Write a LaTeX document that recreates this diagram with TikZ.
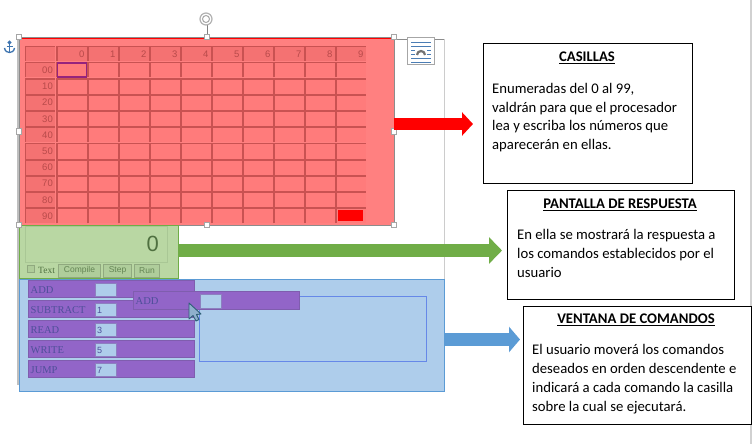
\documentclass[tikz,border=0pt]{standalone}
\usepackage{fontspec}
\setmainfont{Carlito}
\newfontfamily\uiserif{Liberation Serif}
\newfontfamily\uisans{Liberation Sans}
\usetikzlibrary{arrows.meta,calc}
\definecolor{panelred}{HTML}{FF8080}
\definecolor{cellred}{HTML}{FF7B7B}
\definecolor{headred}{HTML}{F47272}
\definecolor{bevelred}{HTML}{C95252}
\definecolor{numred}{HTML}{B84A4A}
\definecolor{panelgreen}{HTML}{B9D7A3}
\definecolor{edgegreen}{HTML}{70AD47}
\definecolor{innergreen}{HTML}{A9C795}
\definecolor{textgreen}{HTML}{4F7040}
\definecolor{panelblue}{HTML}{AECDEB}
\definecolor{edgeblue}{HTML}{5B9BD5}
\definecolor{purp}{HTML}{9265C8}
\definecolor{purpedge}{HTML}{7F5DAE}
\definecolor{purptext}{HTML}{4F4F9A}
\definecolor{dropblue}{HTML}{6688E8}
\definecolor{iconblue}{HTML}{4B7DB4}
\definecolor{anchorblue}{HTML}{3C73AF}
\definecolor{selpurple}{HTML}{96237D}
\definecolor{cursorfill}{HTML}{8FB0CC}
\definecolor{cursoredge}{HTML}{2F5F78}
\tikzset{
  x=1pt,y=-1pt,
  plain/.style={inner sep=0pt,outer sep=0pt,anchor=north west},
  cellbox/.style={plain,fill=cellred,minimum width=29.5pt,minimum height=15pt},
  headbox/.style={plain,fill=headred,minimum width=29.5pt,minimum height=14.5pt},
  bevel/.style={draw=bevelred,line width=1.9pt},
  numtext/.style={inner sep=0pt,text=numred,font=\uisans\fontsize{9.5}{10}\selectfont,anchor=base east},
  handle/.style={draw=black!35,fill=white,line width=1pt,minimum size=5.5pt,inner sep=0pt},
  infobox/.style={draw=black,line width=1pt,fill=white,plain},
  title/.style={inner sep=0pt,font=\bfseries\fontsize{14.7}{16}\selectfont,anchor=base},
  body/.style={inner sep=0pt,font=\fontsize{14.7}{18.7}\selectfont,align=left,anchor=north west},
  cmdrow/.style={plain,fill=purp,draw=purpedge,line width=.5pt,minimum width=166pt,minimum height=17pt},
  cmdtext/.style={inner sep=0pt,text=purptext,font=\uiserif\fontsize{10.5}{12}\selectfont,anchor=base west},
  cmdinput/.style={plain,fill=panelblue,draw=purpedge!70!panelblue,line width=.6pt,minimum width=21.5pt,minimum height=13.5pt},
  cmdvalue/.style={inner sep=0pt,text=purptext,font=\uisans\fontsize{9}{9}\selectfont,anchor=base west},
  uibutton/.style={plain,fill=innergreen!60!panelgreen,draw=innergreen!85!black,line width=.5pt,minimum height=13pt,
     text=textgreen!80!panelgreen,font=\uisans\fontsize{8.5}{9}\selectfont},
  iconline/.style={iconblue,line width=.9pt},
}
\begin{document}
\begin{tikzpicture}
\useasboundingbox (0,0) rectangle (753,444);
\fill[white] (0,0) rectangle (753,444);
% page margins
\draw[black!20,line width=1pt] (444.5,39) -- (444.5,280);
\draw[black!45,line width=1pt] (394,39.5) -- (444,39.5);
\draw[black!25,line width=1.5pt] (18,37) -- (18,385);
\fill[black!18] (750,0) rectangle (752,444);
% red panel
\node[plain,fill=panelred,minimum width=375pt,minimum height=188pt] (memory) at (19,37) {};
\draw[red,line width=1pt] (19.8,225) -- (19.8,38.5) -- (394,38.5);
\draw[black!45,line width=.8pt] (19,225) -- (19,37) -- (394,37) -- (394,225) -- cycle;
% header row
\node[headbox] (corner) at (25.5,46.5) {};
\draw[bevel] (corner.south west) -- (corner.north west) -- (corner.north east);
\foreach \c in {0,...,9}{
  \pgfmathsetmacro{\xx}{57+31*\c}
  \node[headbox] (head\c) at (\xx,46.5) {};
  \draw[bevel] (head\c.south west) -- (head\c.north west) -- (head\c.north east);
  \node[numtext] at ($(head\c.south east)+(-2,-3.5)$) {\c};
}
% rows
\foreach \r in {0,...,9}{
  \pgfmathsetmacro{\yy}{62.5+16.2*\r}
  \node[headbox,minimum height=15pt] (rowhead\r) at (25.5,\yy) {};
  \draw[bevel] (rowhead\r.south west) -- (rowhead\r.north west) -- (rowhead\r.north east);
  \node[numtext] at ($(rowhead\r.south east)+(-2,-4)$) {\r0};
  \foreach \c in {0,...,9}{
    \pgfmathsetmacro{\xx}{57+31*\c}
    \node[cellbox] (cell\r\c) at (\xx,\yy) {};
    \draw[bevel] (cell\r\c.south west) -- (cell\r\c.north west) -- (cell\r\c.north east);
  }
}
\node[plain,draw=selpurple,line width=1.5pt,minimum width=29pt,minimum height=14pt] (selected) at (57.5,63) {};
\node[plain,fill=red,minimum width=25.5pt,minimum height=11pt] (lastcell) at (337.5,210) {};
% green panel
\node[plain,fill=panelgreen,draw=edgegreen,line width=.8pt,minimum width=159pt,minimum height=53pt] (output) at (19,225) {};
\node[plain,draw=innergreen,line width=.8pt,minimum width=142pt,minimum height=36pt] (display) at (25,226) {};
\node[inner sep=0pt,text=textgreen,font=\uisans\fontsize{22}{22}\selectfont,anchor=base east] (zero) at (159,251) {0};
\node[plain,fill=innergreen!70!panelgreen,draw=innergreen!85!black,line width=.5pt,minimum size=7pt] (check) at (27.5,265) {};
\node[inner sep=0pt,text=textgreen,font=\uiserif\fontsize{9.5}{10}\selectfont,anchor=base west] (txt) at (38,273.5) {Text};
\node[uibutton,minimum width=42pt] (compile) at (58.5,264) {Compile};
\node[uibutton,minimum width=28pt] (stepbtn) at (103.5,264) {Step};
\node[uibutton,minimum width=25pt] (runbtn) at (134.5,264) {Run};
% blue panel
\node[plain,fill=panelblue,draw=edgeblue,line width=.8pt,minimum width=425pt,minimum height=112pt] (commands) at (19.5,279.5) {};
\node[plain,draw=dropblue,line width=.8pt,minimum width=227pt,minimum height=65pt] (drop) at (199,296) {};
\foreach \n/\lab/\val/\yy in {a/ADD//280.5,b/SUBTRACT/1/300.5,c/READ/3/320.5,d/WRITE/5/340.5,e/JUMP/7/360.5}{
  \node[cmdrow] (row\n) at (28,\yy) {};
  \node[cmdtext] at ($(row\n.north west)+(2.5,12.5)$) {\lab};
  \node[cmdinput] (in\n) at ($(row\n.north west)+(67,2.5)$) {};
  \node[cmdvalue] at ($(in\n.north west)+(2,10.5)$) {\val};
}
% dragged command
\node[cmdrow,minimum height=18pt] (drag) at (133,291.5) {};
\node[cmdtext] at ($(drag.north west)+(2.5,12.5)$) {ADD};
\node[cmdinput] (dragin) at ($(drag.north west)+(67,3)$) {};
% cursor
\draw[fill=cursorfill,draw=cursoredge,line width=.9pt,line join=round]
  (189,303) -- (189,319) -- (193,315.5) -- (196,321) -- (199,319.5) -- (196.5,314.5) -- (201,314) -- cycle;
% handles
\foreach \hx/\hy in {19/37,207/37,394/37,19/131.5,394/131.5,19/225,207/225,394/225}{
  \node[handle] at (\hx,\hy) {};
}
\draw[black!50,line width=.8pt] (207,25) -- (207,34);
\node[circle,draw=black!30,line width=1.2pt,minimum size=12pt,inner sep=0pt] (rotate) at (206,19) {};
\draw[black!35,line width=1pt] (206,19) circle[radius=3.5pt];
% anchor icon
\begin{scope}[draw=anchorblue,line width=1.3pt]
\draw (9.5,42.5) circle[radius=1.3];
\draw (9.5,44) -- (9.5,52.5);
\draw (6.5,46.5) -- (12.5,46.5);
\draw (4.5,48) .. controls (5,51.5) and (7.5,52.5) .. (9.5,52.5) .. controls (11.5,52.5) and (14,51.5) .. (14.5,48);
\end{scope}
% layout icon
\node[plain,draw=black!35,fill=white,line width=.8pt,minimum width=27pt,minimum height=27pt] (layout) at (407.5,37.5) {};
\foreach \ly in {42.5,46.5,58.5,62}{\draw[iconline] (411,\ly) -- (431,\ly);}
\foreach \ly in {50.5,54.5}{
  \draw[iconline] (411,\ly) -- (415,\ly);
  \draw[iconline] (427,\ly) -- (431,\ly);
}
\draw[black!55,line width=2.2pt] (417,55) arc[start angle=180,end angle=0,radius=4pt];
% info boxes
\node[infobox,minimum width=209pt,minimum height=140pt] (box1) at (483,43.5) {};
\node[title] at (587,61.5) {\underline{CASILLAS}};
\node[body] at (492,83) {Enumeradas del 0 al 99,\\valdrán para que el procesador\\lea y escriba los números que\\aparecerán en ellas.};
\node[infobox,minimum width=227pt,minimum height=109pt] (box2) at (507,190.5) {};
\node[title] at (620,208.5) {\underline{PANTALLA DE RESPUESTA}};
\node[body] at (517,229.5) {En ella se mostrará la respuesta a\\los comandos establecidos por el\\usuario};
\node[infobox,minimum width=228pt,minimum height=118pt] (box3) at (523,306) {};
\node[title] at (636,323.5) {\underline{VENTANA DE COMANDOS}};
\node[body] at (532,344.5) {El usuario moverá los comandos\\deseados en orden descendente e\\indicará a cada comando la casilla\\sobre la cual se ejecutará.};
% arrows
\coordinate (redstart) at (memory.east |- 0,124);
\coordinate (redend) at (473,124);
\coordinate (greenstart) at (output.east |- 0,250.5);
\coordinate (greenend) at (502,250.5);
\coordinate (bluestart) at (commands.east |- 0,339.5);
\coordinate (blueend) at (520,339.5);
\draw[red,line width=11.5pt,-{Triangle[length=11pt,width=23pt]}] (redstart) -- (redend);
\draw[edgegreen,line width=13pt,-{Triangle[length=13pt,width=26pt]}] (greenstart) -- (greenend);
\draw[edgeblue,line width=13pt,-{Triangle[length=11pt,width=25pt]}] (bluestart) -- (blueend);
\end{tikzpicture}
\end{document}
